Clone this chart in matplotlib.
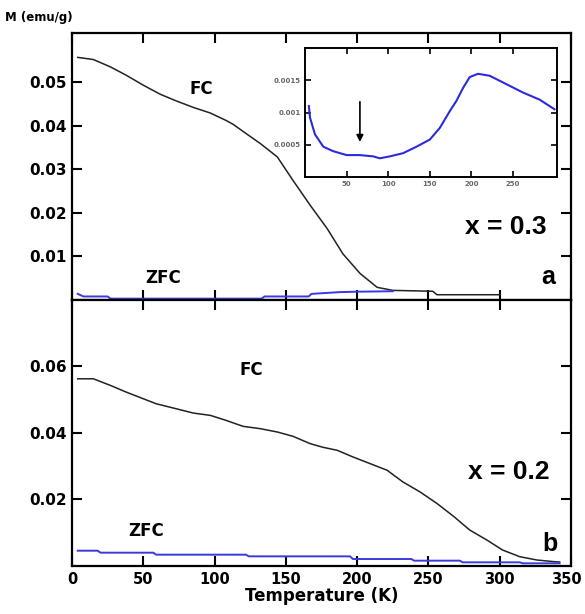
import matplotlib.pyplot as plt
import matplotlib.transforms as mtransforms

plt.rcParams['font.family'] = ['DejaVu Sans']
plt.rcParams['font.weight'] = 'bold'

# x = 0.3 (panel a)
t_fc_a = [4, 15, 27, 38, 50, 62, 73, 85, 97, 108, 113, 122, 132, 144, 155, 167,
          179, 190, 202, 214, 225, 253, 256, 300]
m_fc_a = [0.0557, 0.0552, 0.0535, 0.0516, 0.0493, 0.0472, 0.0457, 0.0442, 0.0429,
          0.0412, 0.0403, 0.0382, 0.0359, 0.0328, 0.0274, 0.0217, 0.0163, 0.0105,
          0.0060, 0.0028, 0.0021, 0.0019, 0.0011, 0.0011]
t_zfc_a = [4, 8, 25, 27, 133, 135, 166, 168, 188, 200, 225]
m_zfc_a = [0.0013, 0.0007, 0.0007, 0.0002, 0.0002, 0.0007, 0.0007, 0.0013, 0.0017,
           0.0018, 0.0019]

# inset
t_in = [4.6, 6, 12, 22, 34, 50, 66, 82, 90, 102, 118, 134, 150, 162, 174, 182, 190,
        198, 208, 222, 242, 262, 282, 300]
m_in = [0.0011, 0.00092, 0.00066, 0.00047, 0.0004, 0.00034, 0.00034, 0.00032,
        0.00029, 0.00032, 0.00037, 0.00047, 0.00058, 0.00076, 0.00102, 0.00118,
        0.00138, 0.00155, 0.0016, 0.00157, 0.00144, 0.00131, 0.0012, 0.00105]

# x = 0.2 (panel b)
t_fc_b = [4, 15, 27, 38, 50, 59, 73, 85, 97, 108, 120, 132, 144, 155, 167, 176,
          186, 197, 209, 221, 232, 244, 256, 268, 279, 291, 302, 314, 326, 338, 342]
m_fc_b = [0.0563, 0.0563, 0.0543, 0.0523, 0.0503, 0.0488, 0.0473, 0.0460, 0.0453,
          0.0438, 0.0420, 0.0413, 0.0403, 0.0390, 0.0368, 0.0357, 0.0348, 0.0328,
          0.0308, 0.0288, 0.0253, 0.0223, 0.0188, 0.0148, 0.0108, 0.0078, 0.0048,
          0.0028, 0.0018, 0.0013, 0.0012]
t_zfc_b = [4, 18, 20, 57, 59, 122, 124, 195, 197, 238, 240, 272, 274, 314, 316, 342]
m_zfc_b = [0.0046, 0.0046, 0.0040, 0.0040, 0.0034, 0.0034, 0.0029, 0.0029, 0.0021,
           0.0021, 0.0016, 0.0016, 0.0011, 0.0011, 0.0008, 0.0008]

xticks = [0, 50, 100, 150, 200, 250, 300, 350]
yticks_a = [0.01, 0.02, 0.03, 0.04, 0.05]
yticks_b = [0.02, 0.04, 0.06]
inset_xticks = [50, 100, 150, 200, 250]
inset_yticks = [0.0005, 0.001, 0.0015]

fc_color = '#222222'
zfc_color = '#3a3adc'
big = ['Liberation Sans', 'DejaVu Sans']

fig = plt.figure(figsize=(5.85, 6.14), dpi=100)
ax1 = fig.add_axes([0.1231, 0.5122, 0.853, 0.4340])
ax2 = fig.add_axes([0.1231, 0.0782, 0.853, 0.4332])

for ax in (ax1, ax2):
    ax.set_xlim(0, 350)
    ax.set_xticks(xticks)
    ax.tick_params(direction='in', length=7, width=1.5, top=True, right=True,
                   labelsize=11, pad=4)
    for s in ax.spines.values():
        s.set_linewidth(1.6)

ax1.plot(t_fc_a, m_fc_a, color=fc_color, lw=1.1)
ax1.plot(t_zfc_a, m_zfc_a, color=zfc_color, lw=1.4)
ax1.set_ylim(0, 0.0613)
ax1.set_yticks(yticks_a)
ax1.set_yticklabels(['0.01', '0.02', '0.03', '0.04', '0.05'])
ax1.tick_params(labelbottom=False)
ax1.text(91, 0.0485, 'FC', fontsize=12, ha='center', va='center')
ax1.text(64, 0.0049, 'ZFC', fontsize=12, ha='center', va='center')
ax1.text(304, 0.0167, 'x = 0.3', fontsize=19, ha='center', va='center', family=big)
ax1.text(334, 0.0052, 'a', fontsize=18, ha='center', va='center', family=big)

ax2.plot(t_fc_b, m_fc_b, color=fc_color, lw=1.1)
ax2.plot(t_zfc_b, m_zfc_b, color=zfc_color, lw=1.4)
ax2.set_ylim(0, 0.08)
ax2.set_yticks(yticks_b)
ax2.set_yticklabels(['0.02', '0.04', '0.06'])
xlabels = ax2.set_xticklabels([str(v) for v in xticks])
ax2.tick_params(axis='x', labelsize=10.5)
# keep the last label inside the figure edge
xlabels[-1].set_transform(xlabels[-1].get_transform() +
                          mtransforms.ScaledTranslation(-5 / 100, 0, fig.dpi_scale_trans))
ax2.text(126, 0.0588, 'FC', fontsize=12, ha='center', va='center')
ax2.text(52, 0.0106, 'ZFC', fontsize=12, ha='center', va='center')
ax2.text(306, 0.0283, 'x = 0.2', fontsize=19, ha='center', va='center', family=big)
ax2.text(335, 0.0066, 'b', fontsize=18, ha='center', va='center', family=big)
ax2.set_xlabel('Temperature (K)', fontsize=12, fontweight='bold', labelpad=0)

fig.text(0.009, 0.971, 'M (emu/g)', fontsize=8.5, ha='left', va='center')

# inset
axi = fig.add_axes([0.5214, 0.7117, 0.4308, 0.2101])
axi.plot(t_in, m_in, color='#2b2bdd', lw=1.5)
axi.set_xlim(0, 303)
axi.set_ylim(0, 0.002)
axi.set_xticks(inset_xticks)
axi.set_yticks(inset_yticks)
axi.set_yticklabels(['0.0005', '0.001', '0.0015'])
axi.tick_params(direction='in', length=4, width=1.2, top=True, right=True,
                labelsize=5, labelcolor='#666666', pad=3)
for s in axi.spines.values():
    s.set_linewidth(1.4)
axi.annotate('', xy=(66, 0.0005), xytext=(66, 0.00121),
             arrowprops=dict(arrowstyle='-|>', color='black', lw=1.2,
                             mutation_scale=10))

fig.savefig('out.png', dpi=100)
